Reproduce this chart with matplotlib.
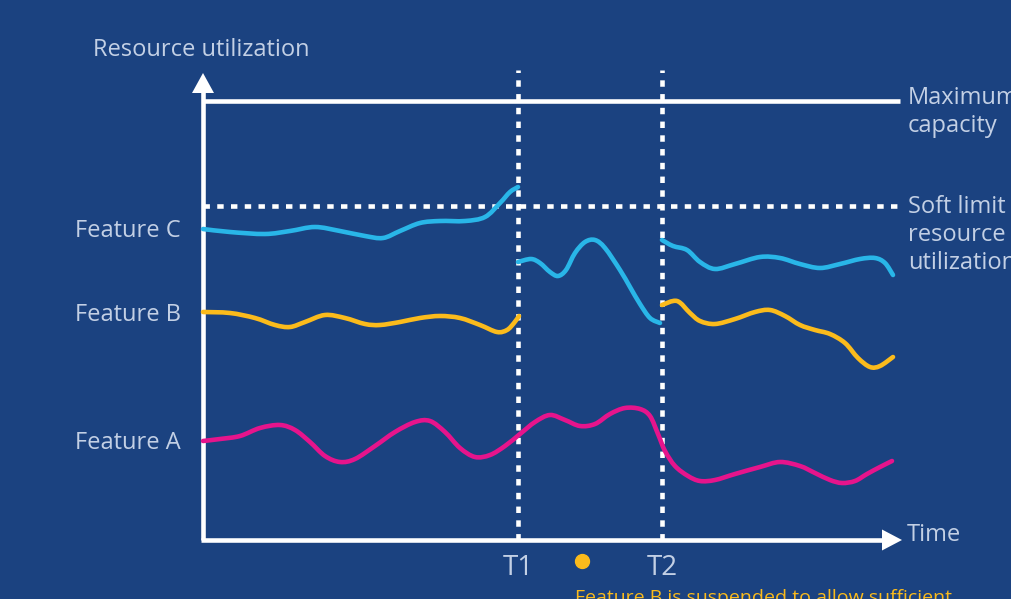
import matplotlib.pyplot as plt
import numpy as np
from matplotlib.path import Path
from matplotlib.patches import PathPatch, Polygon

# time (x) and utilization (y), measured from the axis origin
c1_t = [0, 27, 62, 87, 112, 137, 162, 180, 197, 217, 237, 262, 282, 297, 307, 315]
c1_u = [311, 308, 306, 309, 313, 309, 304, 302, 309, 317, 319, 319, 323, 337, 348, 353]
c2_t = [315, 328, 337, 347, 355, 363, 372, 382, 392, 402, 417, 427, 437, 447, 457]
c2_u = [278, 281, 277, 268, 264, 270, 287, 298, 300, 292, 270, 253, 236, 222, 217]
c3_t = [459, 470, 484, 497, 512, 532, 557, 577, 597, 617, 637, 657, 672, 682, 690]
c3_u = [300, 294, 290, 278, 271, 276, 283, 282, 276, 272, 276, 281, 282, 277, 265]

b1_t = [0, 27, 52, 72, 87, 102, 122, 142, 162, 177, 197, 217, 237, 257, 277, 294, 304, 311, 316]
b1_u = [228, 227, 222, 215, 213, 218, 225, 222, 216, 215, 218, 222, 224, 222, 215, 208, 210, 217, 224]
b2_t = [459, 474, 487, 497, 512, 532, 552, 567, 582, 597, 612, 627, 642, 655, 667, 677, 690]
b2_u = [235, 239, 227, 219, 216, 221, 228, 230, 224, 215, 210, 206, 197, 182, 173, 174, 183]

a_t = [0, 17, 37, 57, 77, 92, 107, 122, 137, 152, 172, 192, 212, 227, 242, 257, 272, 287, 302, 317,
       332, 347, 362, 377, 392, 407, 422, 437, 447, 455, 462, 472, 485, 497, 512, 532, 557, 577,
       597, 612, 627, 639, 652, 664, 677, 689]
a_u = [99, 101, 104, 112, 115, 110, 98, 84, 78, 81, 94, 108, 118, 119, 108, 92, 83, 85, 94, 106,
       118, 125, 120, 114, 116, 126, 132, 131, 124, 106, 89, 74, 64, 59, 60, 66, 73, 78,
       74, 67, 60, 57, 59, 66, 73, 79]

max_capacity = 439
soft_limit = 334
t1, t2 = 315, 459
feature_labels = ['Feature A', 'Feature B', 'Feature C']
feature_label_u = [97, 225, 309]

bg = '#1b4280'
txt = '#c3d0e5'
cyan = '#29b6e8'
yellow = '#fbbb1c'
magenta = '#e6148c'


def smooth_path(xs, ys):
    pts = np.column_stack([xs, ys]).astype(float)
    verts = [pts[0]]
    codes = [Path.MOVETO]
    n = len(pts)
    for i in range(n - 1):
        p0 = pts[max(i - 1, 0)]
        p1 = pts[i]
        p2 = pts[i + 1]
        p3 = pts[min(i + 2, n - 1)]
        verts += [p1 + (p2 - p0) / 6, p2 - (p3 - p1) / 6, p2]
        codes += [Path.CURVE4] * 3
    return Path(verts, codes)


fig = plt.figure(figsize=(10.12, 5.99), dpi=100)
fig.patch.set_facecolor(bg)
ax = fig.add_axes([0, 0, 1, 1])
ax.set_facecolor(bg)
ax.set_xlim(-203, 809)
ax.set_ylim(-59, 540)
ax.axis('off')

plt.rcParams['font.family'] = ['Open Sans', 'DejaVu Sans']

# axes with arrows
ax.plot([0, 0], [0, 449], c='white', lw=3.3, solid_capstyle='butt')
ax.plot([-1.5, 680], [0, 0], c='white', lw=3.3, solid_capstyle='butt')
ax.add_patch(Polygon([[-11, 447], [11, 447], [0, 467]], closed=True, fc='white', ec='none'))
ax.add_patch(Polygon([[679, -10.5], [679, 10.5], [699, 0]], closed=True, fc='white', ec='none'))

# limits
ax.plot([0, 697], [max_capacity, max_capacity], c='white', lw=3.3, solid_capstyle='butt')
ax.plot([0, 697], [soft_limit, soft_limit], c='white', lw=3.3, linestyle=(0, (1.4, 1.6)))
for t in [t1, t2]:
    ax.plot([t, t], [0, 470], c='white', lw=3.3, linestyle=(0, (1.4, 1.6)), zorder=3)

# feature curves
for ts, us, col in [(c1_t, c1_u, cyan), (c2_t, c2_u, cyan), (c3_t, c3_u, cyan),
                    (b1_t, b1_u, yellow), (b2_t, b2_u, yellow), (a_t, a_u, magenta)]:
    ax.add_patch(PathPatch(smooth_path(ts, us), fill=False, ec=col, lw=3.3,
                           capstyle='round', joinstyle='round', zorder=4))

# labels
fs = 17
ax.text(-110, 490, 'Resource utilization', color=txt, fontsize=fs, ha='left', va='center')
for lab, u in zip(feature_labels, feature_label_u):
    ax.text(-22, u, lab, color=txt, fontsize=fs, ha='right', va='center')
ax.text(705, 428, 'Maximum\ncapacity', color=txt, fontsize=fs, ha='left', va='center',
        linespacing=1.2)
ax.text(705, 305, 'Soft limit\nresource\nutilization', color=txt, fontsize=fs, ha='left',
        va='center', linespacing=1.22)
ax.text(704, 5, 'Time', color=txt, fontsize=fs, ha='left', va='center')
ax.text(t1, -28, 'T1', color=txt, fontsize=20, ha='center', va='center')
ax.text(t2, -28, 'T2', color=txt, fontsize=20, ha='center', va='center')
ax.plot([379], [-21], 'o', color=yellow, markersize=10)
ax.text(372, -49, 'Feature B is suspended to allow sufficient', color=yellow, fontsize=14,
        ha='left', va='top', clip_on=False)

fig.savefig('out.png', dpi=100, facecolor=bg)
